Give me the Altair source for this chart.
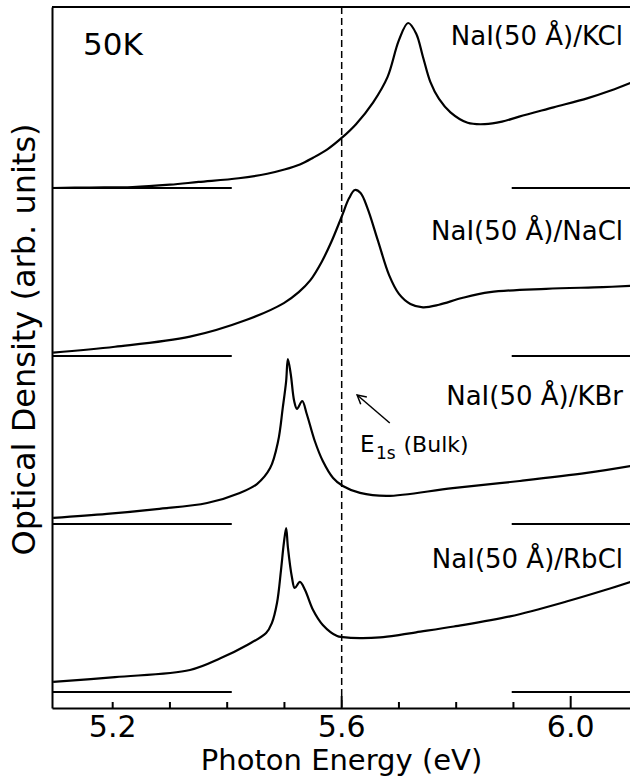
import altair as alt
import pandas as pd

FONT = "DejaVu Sans"

# ---- spectra (photon energy in eV, optical density relative to each baseline) ----
kcl_e = [5.094, 5.16, 5.235, 5.30, 5.35, 5.42, 5.47, 5.50, 5.527, 5.55, 5.575, 5.60, 5.625, 5.655,
         5.68, 5.70, 5.716, 5.73, 5.742, 5.755, 5.77, 5.79, 5.82, 5.85, 5.88, 5.91, 5.97, 6.03,
         6.07, 6.104]
kcl_v = [0.0, 0.003, 0.006, 0.02, 0.036, 0.058, 0.085, 0.11, 0.14, 0.18, 0.23, 0.298, 0.38, 0.51,
         0.66, 0.88, 0.982, 0.92, 0.78, 0.63, 0.53, 0.45, 0.388, 0.38, 0.395, 0.425, 0.48, 0.535,
         0.58, 0.625]

nacl_e = [5.096, 5.204, 5.335, 5.433, 5.499, 5.525, 5.545, 5.565, 5.582, 5.60, 5.613, 5.623, 5.633,
          5.645, 5.663, 5.683, 5.70, 5.72, 5.742, 5.77, 5.81, 5.859, 5.957, 6.056, 6.104]
nacl_v = [0.02, 0.055, 0.115, 0.214, 0.315, 0.38, 0.45, 0.56, 0.68, 0.83, 0.94, 0.988, 0.97,
          0.88, 0.69, 0.48, 0.37, 0.31, 0.29, 0.305, 0.345, 0.38, 0.40, 0.41, 0.417]

kbr_e = [5.096, 5.19, 5.277, 5.365, 5.422, 5.452, 5.475, 5.489, 5.497, 5.503, 5.506, 5.511, 5.517,
         5.522, 5.531, 5.539, 5.553, 5.567, 5.585, 5.602, 5.632, 5.679, 5.794, 5.911, 6.028, 6.104]
kbr_v = [0.036, 0.06, 0.089, 0.125, 0.185, 0.238, 0.333, 0.494, 0.69, 0.851, 0.982, 0.893, 0.732,
         0.685, 0.732, 0.655, 0.494, 0.375, 0.274, 0.226, 0.185, 0.167, 0.214, 0.256, 0.304, 0.345]

rbcl_e = [5.096, 5.204, 5.335, 5.389, 5.435, 5.468, 5.478, 5.487, 5.494, 5.499, 5.503, 5.506, 5.513,
          5.518, 5.527, 5.536, 5.55, 5.567, 5.592, 5.602, 5.632, 5.667, 5.702, 5.73, 5.796, 5.894,
          5.994, 6.06, 6.104]
rbcl_v = [0.06, 0.089, 0.131, 0.202, 0.28, 0.351, 0.41, 0.53, 0.726, 0.887, 0.976, 0.863, 0.685,
          0.619, 0.655, 0.607, 0.488, 0.399, 0.333, 0.327, 0.321, 0.325, 0.34, 0.355, 0.39, 0.45,
          0.54, 0.607, 0.655]

series_names = ["NaI(50 Å)/KCl", "NaI(50 Å)/NaCl", "NaI(50 Å)/KBr", "NaI(50 Å)/RbCl"]
series_offsets = [3, 2, 1, 0]
series_e = [kcl_e, nacl_e, kbr_e, rbcl_e]
series_v = [kcl_v, nacl_v, kbr_v, rbcl_v]

# label baselines (in stacked OD units) and right edge energy
label_y = [3.851, 2.690, 1.708, 0.738]
label_x = 6.0914

# baseline segments (energy ranges)
seg_left = [5.094, 5.408]
seg_right = [5.897, 6.1036]

# axis ticks
tick_labels = [5.2, 5.6, 6.0]
minor_ticks = [5.2, 5.3, 5.4, 5.5, 5.7, 5.8, 5.9]
major_ticks = [5.6, 6.0]
bulk_e1s = 5.6

# annotation
temp_text = "50K"
temp_pos = (5.1481, 3.792)
e_parts = ["E", "1s", "(Bulk)"]
e_x = [5.632, 5.6600, 5.7080]
e_y = [1.4286, 1.388, 1.4286]
arrow_tail = (5.684, 1.601)
arrow_head = (5.627, 1.768)

x_dom = [5.094, 6.1036]
y_dom = [-0.0952, 4.0774]
W, H = 578, 701

xs = alt.Scale(domain=x_dom, nice=False, zero=False)
ys = alt.Scale(domain=y_dom, nice=False, zero=False)

XAX = alt.Axis(
    labels=False, ticks=False, grid=False,
    domainColor="black", domainWidth=2, title="Photon Energy (eV)",
    titleFont=FONT, titleFontSize=29, titleFontWeight="normal",
    titleColor="black", titlePadding=38)
YAX = alt.Axis(
    labels=False, ticks=False, grid=False, domainColor="black", domainWidth=2,
    title="Optical Density (arb. units)", titleFont=FONT, titleFontSize=32,
    titleFontWeight="normal", titleColor="black", titlePadding=11, titleY=332)


def X(field):
    return alt.X(field, scale=xs, axis=XAX)


def Y(field):
    return alt.Y(field, scale=ys, axis=YAX)


rows = []
for name, off, es, vs in zip(series_names, series_offsets, series_e, series_v):
    for e, v in zip(es, vs):
        rows.append({"series": name, "E": e, "OD": v + off})
curves_df = pd.DataFrame(rows)

curves = alt.Chart(curves_df).mark_line(
    color="black", strokeWidth=2.2, interpolate="catmull-rom", clip=True
).encode(x=X("E:Q"), y=Y("OD:Q"), detail="series:N")

seg_rows = []
for off in series_offsets:
    seg_rows.append({"x1": seg_left[0], "x2": seg_left[1], "y": off})
    seg_rows.append({"x1": seg_right[0], "x2": seg_right[1], "y": off})
segs = alt.Chart(pd.DataFrame(seg_rows)).mark_rule(color="black", strokeWidth=2).encode(
    x=X("x1:Q"), x2="x2:Q", y=Y("y:Q"),
)

dashed = alt.Chart(pd.DataFrame({"E": [bulk_e1s]})).mark_rule(
    color="black", strokeWidth=1.5, strokeDash=[7, 4]
).encode(x=X("E:Q"), y=alt.value(0), y2=alt.value(H))

top_border = alt.Chart(pd.DataFrame({"a": [0]})).mark_rule(color="black", strokeWidth=2).encode(
    x=alt.value(0), x2=alt.value(W), y=alt.value(0)
)

minor = alt.Chart(pd.DataFrame({"t": minor_ticks})).mark_rule(color="black", strokeWidth=2).encode(
    x=X("t:Q"), y=alt.value(H), y2=alt.value(H - 6)
)
major = alt.Chart(pd.DataFrame({"t": major_ticks})).mark_rule(color="black", strokeWidth=2).encode(
    x=X("t:Q"), y=alt.value(H), y2=alt.value(H - 12)
)

tick_text = alt.Chart(pd.DataFrame({"t": tick_labels})).mark_text(
    align="center", baseline="alphabetic", font=FONT, fontSize=30, color="black"
).encode(x=X("t:Q"), y=alt.value(H + 29), text=alt.Text("t:Q", format=".1f"))

labels_df = pd.DataFrame({"text": series_names, "y": label_y, "x": [label_x] * 4})
labels = alt.Chart(labels_df).mark_text(
    align="right", baseline="alphabetic", font=FONT, fontSize=26, color="black"
).encode(x=X("x:Q"), y=Y("y:Q"), text="text:N")

temp = alt.Chart(pd.DataFrame({"text": [temp_text], "x": [temp_pos[0]], "y": [temp_pos[1]]})).mark_text(
    align="left", baseline="alphabetic", font=FONT, fontSize=31, color="black"
).encode(x=X("x:Q"), y=Y("y:Q"), text="text:N")

ann_sizes = [23, 17, 22]
ann_layers = []
for t, xx, yy, fs in zip(e_parts, e_x, e_y, ann_sizes):
    ann_layers.append(
        alt.Chart(pd.DataFrame({"text": [t], "x": [xx], "y": [yy]})).mark_text(
            align="left", baseline="alphabetic", font=FONT, fontSize=fs, color="black"
        ).encode(x=X("x:Q"), y=Y("y:Q"), text="text:N")
    )

arrow_df = pd.DataFrame({"x1": [arrow_tail[0]], "y1": [arrow_tail[1]],
                         "x2": [arrow_head[0]], "y2": [arrow_head[1]]})
arrow_line = alt.Chart(arrow_df).mark_rule(color="black", strokeWidth=1.5).encode(
    x=X("x1:Q"), x2="x2:Q", y=Y("y1:Q"), y2="y2:Q",
)
arrow_head_mark = alt.Chart(arrow_df).mark_point(
    shape="M-0.55,1L0,0L0.55,1", filled=False, color="black", strokeWidth=1.5,
    size=300, angle=310, opacity=1
).encode(x=X("x2:Q"), y=Y("y2:Q"))

chart = alt.layer(
    curves, segs, dashed, top_border, minor, major, tick_text, labels, temp,
    *ann_layers, arrow_line, arrow_head_mark
).properties(
    width=W, height=H,
    padding={"left": 52, "top": 7, "right": 0, "bottom": 74},
    autosize=alt.AutoSizeParams(type="none"),
    background="white",
).configure_view(stroke=None)

chart.save("out.html", embed_options={"renderer": "svg", "actions": False})
